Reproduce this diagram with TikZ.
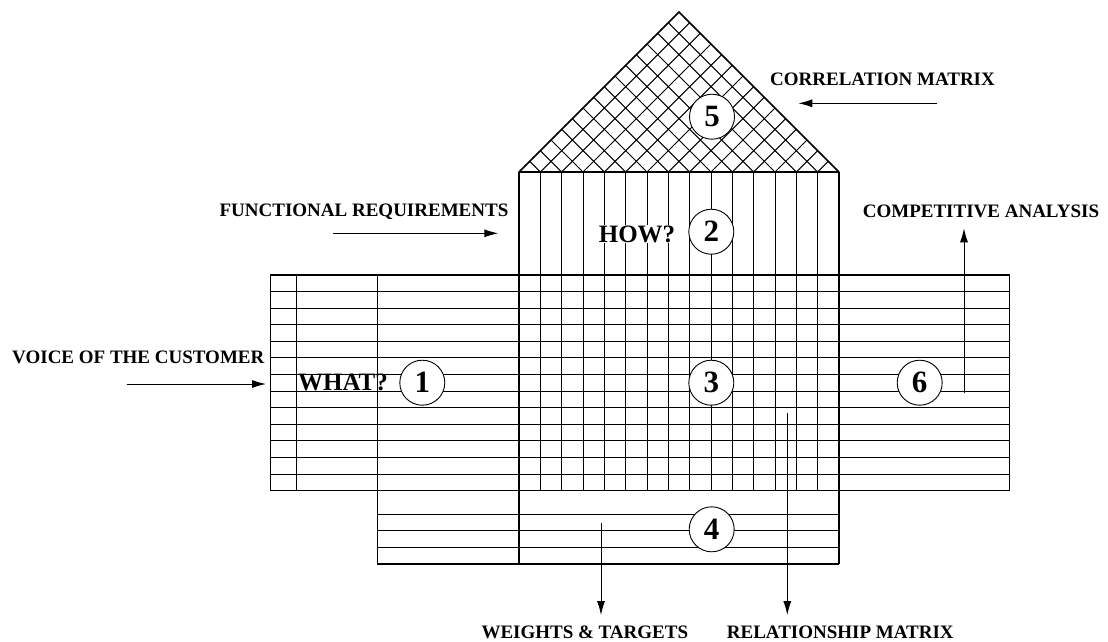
\documentclass[tikz,border=0pt]{standalone}
\usepackage{fontspec}
\setmainfont{Liberation Serif}
\usetikzlibrary{arrows.meta}
\begin{document}
\begin{tikzpicture}[x=1pt,y=-1pt,
  grid/.style={line width=1pt},
  frame/.style={line width=1.5pt},
  lbl/.style={font=\fontsize{19}{19}\selectfont\bfseries, inner sep=0pt, text depth=0pt},
  num/.style={circle, draw, line width=0.9pt, fill=white, minimum size=45pt, inner sep=0pt, font=\fontsize{31}{31}\selectfont\bfseries},
  ask/.style={font=\fontsize{25}{25}\selectfont\bfseries, inner sep=1pt, text depth=0pt},
  arr/.style={line width=0.9pt, -{Latex[length=14pt,width=8pt]}}
]
\useasboundingbox (0,0) rectangle (1108,641);

% roof cross-hatch
\begin{scope}
  \clip (519,172) -- (679,12) -- (839,172) -- cycle;
  \foreach \k in {0,...,15} {
    \draw[grid] ({519+\k*21.333},172) -- ++(170,-170);
    \draw[grid] ({519+\k*21.333},172) -- ++(-170,-170);
  }
\end{scope}
\draw[frame] (519,172) -- (679,12) -- (839,172);

% columns of HOW box and relationship matrix
\foreach \k in {1,...,14} \draw[grid] ({519+\k*21.333},172) -- ({519+\k*21.333},490.7);

% rows of the main body
\foreach \r in {1,...,12} \draw[grid] (270.7,{275+\r*16.59}) -- (1009.3,{275+\r*16.59});

% left section verticals
\draw[grid] (296.7,275) -- (296.7,490.7);
\draw[frame] (377.3,275) -- (377.3,564);

% bottom section rows
\foreach \yy in {514,530.7,547.3} \draw[grid] (377.3,\yy) -- (839,\yy);

% frames
\draw[frame] (270.7,275) rectangle (1009.3,490.7);
\draw[frame] (519,172) -- (839,172);
\draw[frame] (519,172) -- (519,564);
\draw[frame] (839,172) -- (839,564);
\draw[frame] (377.3,564) -- (839,564);

% arrows
\coordinate (corrS) at (936.7,103.3);  \coordinate (corrE) at (798.3,103.3);
\coordinate (funcS) at (332.7,233.3);  \coordinate (funcE) at (498.3,233.3);
\coordinate (compS) at (964,393.3);    \coordinate (compE) at (964,228.3);
\coordinate (voiceS) at (126.7,384);   \coordinate (voiceE) at (266,384);
\coordinate (wtS) at (601,523.3);      \coordinate (wtE) at (601,615);
\coordinate (relS) at (787.3,413.3);   \coordinate (relE) at (787.3,615);
\draw[arr] (corrS) -- (corrE);
\draw[arr] (funcS) -- (funcE);
\draw[arr] (compS) -- (compE);
\draw[arr] (voiceS) -- (voiceE);
\draw[arr] (wtS) -- (wtE);
\draw[arr] (relS) -- (relE);

% labels
\node[lbl] (corr) at (882.5,79) {CORRELATION MATRIX};
\node[lbl] (func) at (364,210) {FUNCTIONAL REQUIREMENTS};
\node[lbl] (comp) at (981,211.7) {COMPETITIVE ANALYSIS};
\node[lbl] (voice) at (138.3,356.7) {VOICE OF THE CUSTOMER};
\node[lbl, anchor=east] (wt) at (688.3,631.7) {WEIGHTS \& TARGETS};
\node[lbl, anchor=west] (rel) at (726.7,631.7) {RELATIONSHIP MATRIX};

\node[ask, fill=white] (how) at (637,234) {HOW?};
\node[ask] (what) at (343,382) {WHAT?};

% numbered circles
\node[num] (c1) at (422.3,382.7) {1};
\node[num] (c2) at (711.3,231.7) {2};
\node[num] (c3) at (711.3,382.7) {3};
\node[num] (c4) at (711.7,529.3) {4};
\node[num] (c5) at (712,116.7) {5};
\node[num] (c6) at (919.7,382.7) {6};
\end{tikzpicture}
\end{document}
